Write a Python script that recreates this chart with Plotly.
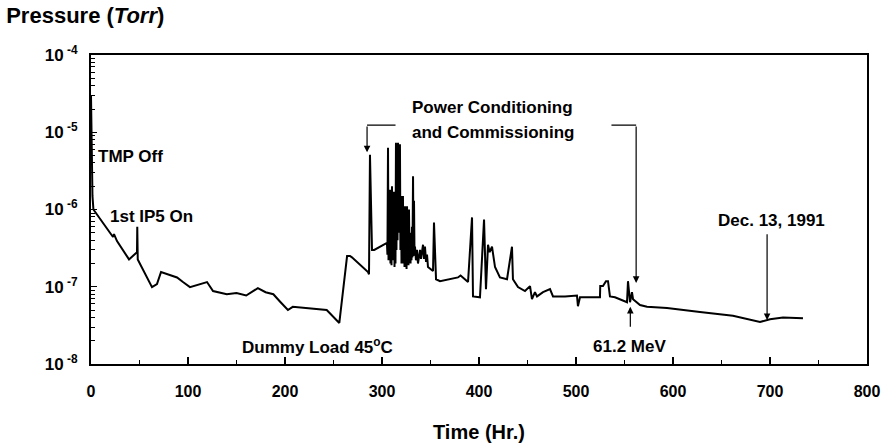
import numpy as np
import plotly.graph_objects as go

# ---- data ----
time_hr = [0, 0.6, 1.5, 2.5, 22.7, 23.7, 26.8, 39.2, 47.4, 47.7, 48.2, 62.9, 68, 72.2, 88.7, 94.8, 102,
           119.6, 125.8, 140, 150, 160, 172, 180, 188, 195, 203, 208, 243, 256, 260, 264, 267, 269,
           285.6, 286.6, 287.6, 289.7, 292, 305.1,
           305.6, 306.2, 306.7, 307.2, 307.7, 308.2, 308.7, 309.3, 309.8, 310.3, 310.8, 311.3, 311.8,
           312.4, 312.9, 313.4, 313.9, 314.4, 314.9, 315.5, 316.0, 316.5, 317.0, 317.5, 318.0, 318.5,
           319.0, 319.6, 320.1, 320.6, 321.1, 321.6, 322.1, 322.7, 323.2, 323.7, 324.2, 324.7, 325.3,
           325.8, 326.3, 326.8, 327.3, 327.8, 328.4, 328.9, 329.4, 329.9, 330.4, 330.9, 331.4, 332.0,
           332.5, 333.0, 333.5, 334.0, 335.0, 336.0, 337.1, 338.1, 339.2, 340.2, 341.2, 342.3, 343.3,
           344.3, 345.4, 346.4, 347.4, 352.6, 353.6, 355.7, 359.8, 378.3, 381, 385.6, 388.7, 392.8,
           393.8, 401, 405.2, 407.2, 409.3, 411, 413.4, 416.5, 421.6, 428.9, 434, 435, 440.2, 447.4,
           452.6, 454.6, 457.7, 459.8, 466, 473.2, 476.3, 483.5, 488.7, 501, 502, 504.1, 521.6, 524.7,
           525, 527.8, 530.9, 533, 535, 540.2, 552.6, 553.6, 555.7, 557.7, 558.8, 562.9, 566, 573.2,
           593.8, 627.8, 661.8, 689.7, 700, 713.4, 734]
pressure = [3.0e-5, 4e-6, 1.5e-6, 1.0e-6, 4.4e-7, 4.8e-7, 3.9e-7, 2.26e-7, 2.8e-7, 6.0e-7, 2.26e-7,
            9.9e-8, 1.08e-7, 1.55e-7, 1.32e-7, 1.15e-7, 9.9e-8, 1.15e-7, 8.8e-8, 8.0e-8, 8.3e-8,
            7.7e-8, 9.6e-8, 8.5e-8, 8.0e-8, 6.4e-8, 5.0e-8, 5.5e-8, 5.0e-8, 3.4e-8, 9e-8, 2.5e-7,
            2.5e-7, 2.4e-7, 1.55e-7, 1.45e-7, 5.1e-6, 3.0e-7, 3.0e-7, 3.7e-7,
            2.6e-7, 6.3e-6, 2.2e-7, 1.0e-6, 2.4e-7, 1.8e-6, 2.0e-7, 6.0e-7, 1.9e-7, 2.0e-6, 2.5e-7,
            1.2e-6, 2.2e-7, 1.7e-6, 1.8e-7, 9e-7, 2.0e-7, 7.3e-6, 3e-7, 5.0e-6, 4e-7, 7.3e-6, 5e-7,
            4.0e-6, 6e-7, 7.0e-6, 3e-7, 1.5e-6, 2.0e-7, 1.3e-6, 2.5e-7, 1.5e-6, 2.0e-7, 9e-7, 1.8e-7,
            1.1e-6, 2.2e-7, 6e-7, 1.7e-7, 1.1e-6, 2.0e-7, 9e-7, 1.9e-7, 1.0e-6, 2.5e-7, 5e-7, 2.0e-7,
            4e-7, 2.2e-7, 6e-7, 2.4e-7, 2.7e-6, 2.5e-7, 1.3e-6, 2.8e-7, 3.3e-7, 2.2e-7, 3.0e-7,
            2.0e-7, 2.6e-7, 3.0e-7, 2.3e-7, 2.8e-7, 3.5e-7, 2.3e-7, 3.3e-7, 2.1e-7, 2.6e-7, 1.8e-7,
            1.6e-7, 6.8e-7, 1.25e-7, 1.18e-7, 1.32e-7, 1.4e-7, 1.25e-7, 1.15e-7, 7.9e-7, 7.5e-8,
            7.3e-8, 7.4e-7, 9.3e-8, 3.5e-7, 2.8e-7, 3.3e-7, 1.8e-7, 1.32e-7, 1.25e-7, 3.3e-7,
            1.25e-7, 9.9e-8, 8.8e-8, 1.02e-7, 6.9e-8, 8.5e-8, 7.5e-8, 8.5e-8, 9.3e-8, 7.5e-8, 7.5e-8,
            7.5e-8, 7.7e-8, 5.6e-8, 7.3e-8, 7.3e-8, 7.3e-8, 1.02e-7, 1.02e-7, 1.18e-7, 1.18e-7,
            7.5e-8, 7.3e-8, 6.3e-8, 1.18e-7, 6.3e-8, 8.5e-8, 6.9e-8, 6.3e-8, 5.8e-8, 5.5e-8, 5.3e-8,
            4.7e-8, 4.2e-8, 3.5e-8, 3.8e-8, 4.0e-8, 3.9e-8]

x_ticks = [0, 100, 200, 300, 400, 500, 600, 700, 800]
y_ticks = [1e-8, 1e-7, 1e-6, 1e-5, 1e-4]
y_tick_labels = ["10<sup> -8</sup>", "10<sup> -7</sup>", "10<sup> -6</sup>", "10<sup> -5</sup>", "10<sup> -4</sup>"]
y_minor = [m * 10.0 ** e for e in range(-8, -4) for m in range(2, 10)]

FONT = "Liberation Sans, Arial, sans-serif"
L = np.log10

fig = go.Figure()
fig.add_trace(go.Scatter(x=time_hr, y=pressure, mode="lines",
                         line=dict(color="black", width=2), hoverinfo="skip"))

fig.update_layout(
    width=886, height=445,
    margin=dict(l=91, r=19, t=55, b=81, autoexpand=False),
    paper_bgcolor="white", plot_bgcolor="white",
    showlegend=False,
    font=dict(family=FONT, size=16, color="black"),
    title=dict(text="<b>Pressure (<i>Torr</i>)</b>", x=0.007, xanchor="left",
               y=0.966, yanchor="middle", font=dict(size=22, family=FONT)),
)
fig.update_xaxes(range=[0, 800], tickvals=x_ticks, ticktext=[f"<b>{v}</b>" for v in x_ticks],
                 automargin=False,
                 showgrid=False, zeroline=False, showline=True, linecolor="black", linewidth=2,
                 mirror=True, ticks="inside", ticklen=7, tickwidth=1.2, tickcolor="black",
                 minor=dict(tickvals=[50, 150, 250, 350, 450, 550, 650, 750], ticks="inside",
                            ticklen=4, tickwidth=1, tickcolor="black"),
                 tickfont=dict(size=16, family=FONT), ticklabelstandoff=12)
fig.update_yaxes(type="log", range=[-8, -4], tickvals=y_ticks,
                 ticktext=[f"<b>{t}</b>" for t in y_tick_labels],
                 automargin=False,
                 showgrid=False, zeroline=False, showline=True, linecolor="black", linewidth=2,
                 mirror=True, ticks="inside", ticklen=6, tickwidth=1.2, tickcolor="black",
                 minor=dict(tickvals=y_minor, ticks="inside", ticklen=4, tickwidth=1,
                            tickcolor="black"),
                 tickfont=dict(size=17, family=FONT), ticklabelstandoff=8)

def txt(x, y, s, xanchor="center", size=17):
    fig.add_annotation(x=x, y=y, xref="x", yref="y", text=f"<b>{s}</b>", showarrow=False,
                       xanchor=xanchor, yanchor="middle", font=dict(size=size, family=FONT))

def arrow(x0, y0, x1, y1, head=2):
    fig.add_annotation(x=x1, y=L(y1), ax=x0, ay=L(y0), xref="x", yref="y", axref="x", ayref="y",
                       text="", showarrow=True, arrowhead=head, arrowsize=1.1, arrowwidth=1.2,
                       arrowcolor="black", standoff=0, startstandoff=0)

txt(5, L(4.8e-6), "TMP Off", xanchor="left")
txt(18, L(8.2e-7), "1st IP5 On", xanchor="left")
txt(234, L(1.7e-8), "Dummy Load 45<sup>o</sup>C")
txt(555, L(1.7e-8), "61.2 MeV")
txt(702, L(7.3e-7), "Dec. 13, 1991")
txt(414, L(2.1e-5), "Power Conditioning")
txt(414, L(1.0e-5), "and Commissioning")

# bracket arrows for Power Conditioning
arrow(315.5, 1.24e-5, 284.6, 1.24e-5, head=0)
arrow(284.6, 1.24e-5, 284.6, 5.5e-6)
arrow(535, 1.24e-5, 562, 1.24e-5, head=0)
arrow(562, 1.24e-5, 562, 1.12e-7)
# 61.2 MeV arrow (pointing up)
arrow(556, 2.9e-8, 556, 5.5e-8)
# Dec. 13, 1991 arrow
arrow(697, 5.0e-7, 697, 3.7e-8)

fig.add_annotation(x=0.5, y=-0.22, xref="paper", yref="paper", text="<b>Time (Hr.)</b>",
                   showarrow=False, xanchor="center", yanchor="middle",
                   font=dict(size=20, family=FONT))

fig.write_html("out.html", config={"displayModeBar": False, "staticPlot": True},
               post_script="document.body.style.margin='0px';")
